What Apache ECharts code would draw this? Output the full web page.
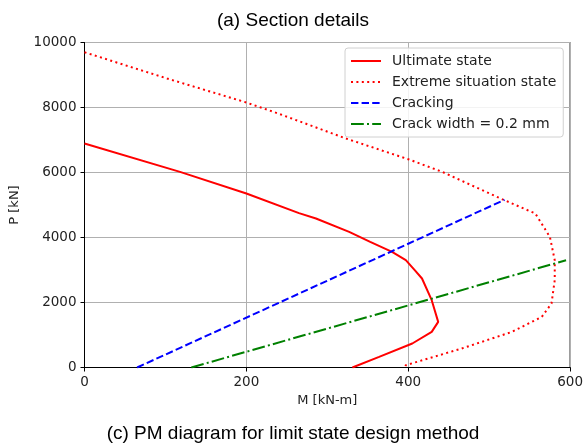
<!DOCTYPE html>
<html>
<head>
<meta charset="utf-8">
<script src="https://cdn.jsdelivr.net/npm/echarts@6/dist/echarts.min.js"></script>
<style>
  html, body { margin: 0; padding: 0; background: #fff; }
  #chart { width: 586px; height: 446px; }
</style>
</head>
<body>
<div id="chart"></div>
<script>
// ---- data (M in kN-m, P in kN) ----
var seriesNames = ['Ultimate state', 'Extreme situation state', 'Cracking', 'Crack width = 0.2 mm'];

var ultimateM = [0, 118, 200, 265, 286, 327, 353, 380, 397, 408, 417, 429, 437, 429, 405, 364, 331];
var ultimateP = [6890, 6018, 5354, 4750, 4585, 4172, 3865, 3557, 3302, 2994, 2738, 2071, 1403, 1095, 738, 326, 0];

var extremeM = [0, 102, 200, 241, 323, 401, 442, 478, 515, 557, 575, 581, 581, 577, 565, 528, 466, 397, 396];
var extremeP = [9700, 8892, 8154, 7800, 7046, 6400, 6019, 5609, 5190, 4738, 4019, 3302, 2686, 1969, 1558, 1095, 584, 71, 0];

var crackingM = [65, 519];
var crackingP = [0, 5160];

var crackWidthM = [132, 595];
var crackWidthP = [0, 3300];

var xTicks = [0, 200, 400, 600];
var yTicks = [0, 2000, 4000, 6000, 8000, 10000];

function pairs(m, p) { return m.map(function (v, i) { return [v, p[i]]; }); }

var tickFont = 'DejaVu Sans';
var chart = echarts.init(document.getElementById('chart'), null, { renderer: 'canvas' });

function mkSeries(name, data, color, width, type) {
  return {
    name: name, type: 'line', data: data, symbol: 'none', smooth: false,
    lineStyle: { color: color, width: width, type: type, cap: 'butt' },
    itemStyle: { color: color },
    emphasis: { disabled: true },
    animation: false
  };
}

chart.setOption({
  animation: false,
  backgroundColor: '#fff',
  title: [
    { text: '(a) Section details', left: 'center', top: 6,
      textStyle: { fontFamily: 'Liberation Sans', fontSize: 19, fontWeight: 'normal', color: '#000' } },
    { text: '(c) PM diagram for limit state design method', left: 'center', top: 419,
      textStyle: { fontFamily: 'Liberation Sans', fontSize: 19, fontWeight: 'normal', color: '#000' } }
  ],
  grid: { left: 84.5, right: 14, top: 42.5, bottom: 78.5, show: true, borderColor: '#000', borderWidth: 1, backgroundColor: 'transparent' },
  legend: {
    orient: 'vertical', left: 345, top: 48,
    padding: [5, 7, 5, 5], itemGap: 5, itemWidth: 30, itemHeight: 14,
    backgroundColor: 'rgba(255,255,255,0.85)', borderColor: '#d0d0d0', borderWidth: 1, borderRadius: 3,
    itemStyle: { opacity: 0 },
    textStyle: { fontFamily: tickFont, fontSize: 14, color: '#222', lineHeight: 16, padding: [0, 0, 0, 6] },
    data: seriesNames
  },
  xAxis: {
    type: 'value', min: xTicks[0], max: xTicks[xTicks.length - 1], interval: 200,
    name: 'M [kN-m]', nameLocation: 'middle', nameGap: 27,
    nameTextStyle: { fontFamily: tickFont, fontSize: 13, color: '#222' },
    axisLine: { show: true, lineStyle: { color: '#000', width: 1 } },
    axisTick: { show: true, length: 4, lineStyle: { color: '#000' } },
    axisLabel: { fontFamily: tickFont, fontSize: 13.5, color: '#222', margin: 8, formatter: function (v) { return String(v); } },
    splitLine: { show: true, lineStyle: { color: '#b0b0b0', width: 1 } }
  },
  yAxis: {
    type: 'value', min: yTicks[0], max: yTicks[yTicks.length - 1], interval: 2000,
    name: 'P [kN]', nameLocation: 'middle', nameGap: 63,
    nameTextStyle: { fontFamily: tickFont, fontSize: 13, color: '#222' },
    axisLine: { show: true, lineStyle: { color: '#000', width: 1 } },
    axisTick: { show: true, length: 4, lineStyle: { color: '#000' } },
    axisLabel: { fontFamily: tickFont, fontSize: 13.5, color: '#222', margin: 8, formatter: function (v) { return String(v); } },
    splitLine: { show: true, lineStyle: { color: '#b0b0b0', width: 1 } }
  },
  series: [
    mkSeries(seriesNames[0], pairs(ultimateM, ultimateP), '#ff0000', 2, 'solid'),
    mkSeries(seriesNames[1], pairs(extremeM, extremeP), '#ff0000', 2, [2, 3.4]),
    mkSeries(seriesNames[2], pairs(crackingM, crackingP), '#0000ff', 2, [7.4, 3.2]),
    mkSeries(seriesNames[3], pairs(crackWidthM, crackWidthP), '#008000', 2, [12.8, 3.2, 2, 3.2])
  ]
});
</script>
</body>
</html>
